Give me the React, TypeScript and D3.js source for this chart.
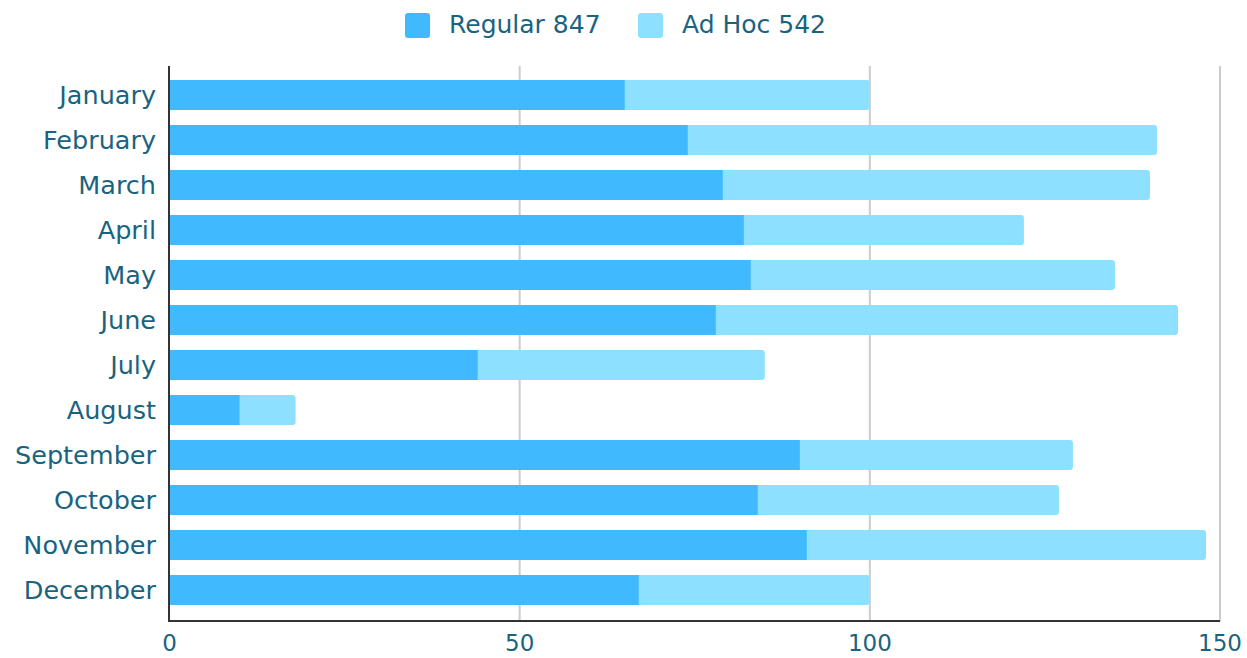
import * as React from 'react';
import * as d3 from 'd3';

const months = ['January', 'February', 'March', 'April', 'May', 'June', 'July', 'August', 'September', 'October', 'November', 'December'];
const regular = [65, 74, 79, 82, 83, 78, 44, 10, 90, 84, 91, 67];
const adHoc = [35, 67, 61, 40, 52, 66, 41, 8, 39, 43, 57, 33];
const xTicks = [0, 50, 100, 150];

const REG_COLOR = '#40b9ff';
const ADHOC_COLOR = '#8de0ff';
const TEXT_COLOR = '#1a6380';
const FONT = '"DejaVu Sans", Verdana, sans-serif';

const W = 1247;
const H = 658;
const left = 169;
const right = 1220;
const top = 66;
const bottom = 621;

export default function App() {
	const x = d3.scaleLinear().domain([0, 150]).range([left + 0.5, right]);
	const y = d3
		.scaleBand<string>()
		.domain(months)
		.range([72.5, 612.5])
		.paddingInner(1 / 3)
		.paddingOuter(1 / 6);

	const sumReg = d3.sum(regular);
	const sumAd = d3.sum(adHoc);

	return (
		<svg width={W} height={H} style={{ position: 'absolute', left: 0, top: 0 }} fontFamily={FONT}>
			{/* legend */}
			<g>
				<rect x={405} y={13} width={25} height={25} rx={3} fill={REG_COLOR} />
				<text x={449} y={33} fontSize={25} fill={TEXT_COLOR}>
					Regular {sumReg}
				</text>
				<rect x={638} y={13} width={25} height={25} rx={3} fill={ADHOC_COLOR} />
				<text x={682} y={33} fontSize={25} fill={TEXT_COLOR}>
					Ad Hoc {sumAd}
				</text>
			</g>

			{/* grid */}
			{xTicks.slice(1).map(t => (
				<line key={t} x1={x(t)} x2={x(t)} y1={top} y2={bottom} stroke='#cccccc' strokeWidth={2} />
			))}

			{/* bars */}
			{months.map((m, i) => {
				const y0 = y(m) ?? 0;
				const bh = y.bandwidth();
				const total = regular[i] + adHoc[i];
				return (
					<g key={m}>
						<rect
							x={x(regular[i]) - 6}
							y={y0}
							width={x(total) - x(regular[i]) + 6}
							height={bh}
							rx={3}
							fill={ADHOC_COLOR}
						/>
						<rect x={x(0)} y={y0} width={x(regular[i]) - x(0)} height={bh} fill={REG_COLOR} />
						<text
							x={left - 13}
							y={y0 + bh / 2}
							dy='0.35em'
							textAnchor='end'
							fontSize={25.5}
							fill={TEXT_COLOR}
						>
							{m}
						</text>
					</g>
				);
			})}

			{/* axes */}
			<line x1={left} x2={left} y1={top} y2={bottom + 1} stroke='#333' strokeWidth={2} />
			<line x1={left - 1} x2={right} y1={bottom} y2={bottom} stroke='#333' strokeWidth={2} />
			{xTicks.map(t => (
				<text key={t} x={x(t)} y={651} textAnchor='middle' fontSize={23} fill={TEXT_COLOR}>
					{t}
				</text>
			))}
		</svg>
	);
}
